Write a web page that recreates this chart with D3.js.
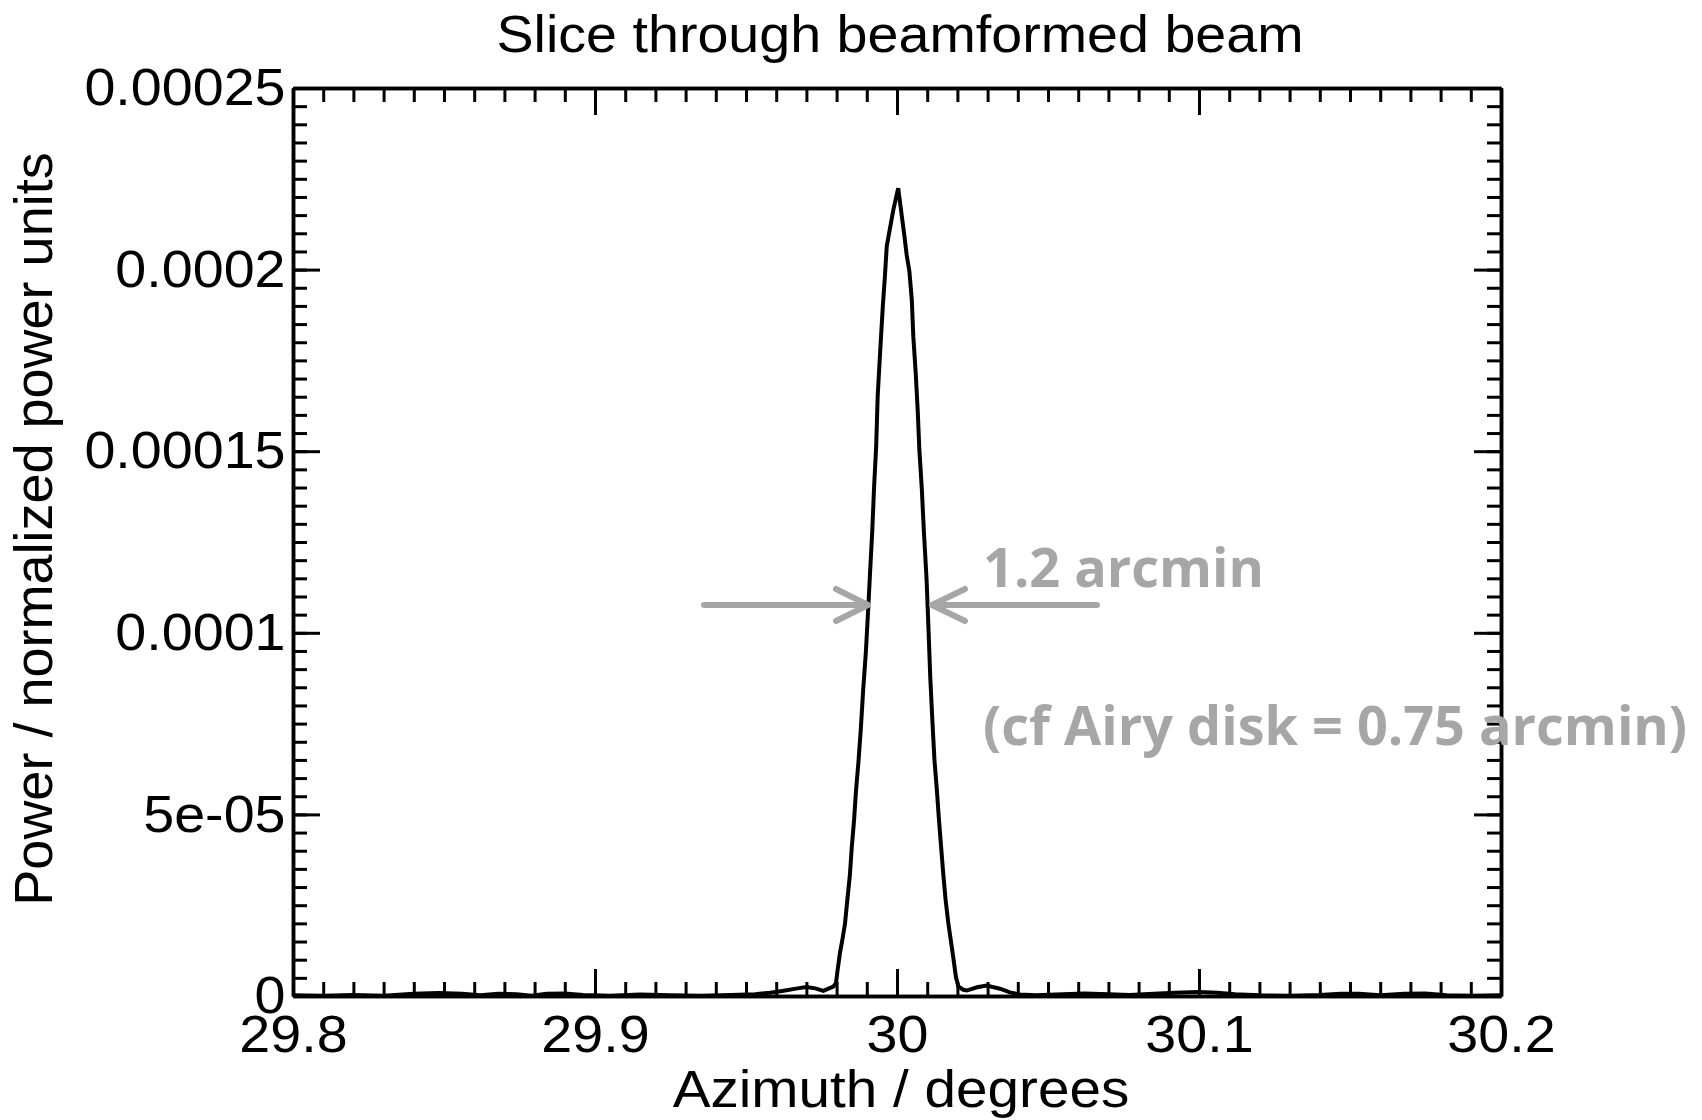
<!DOCTYPE html>
<html>
<head>
<meta charset="utf-8">
<script src="https://cdn.jsdelivr.net/npm/d3@7"></script>
<style>
  body { margin: 0; background: #fff; }
</style>
</head>
<body>
<script>
// beam slice
var azimuth = [29.800, 29.810, 29.820, 29.830, 29.840, 29.848, 29.856, 29.862, 29.868, 29.874,
  29.879, 29.884, 29.890, 29.896, 29.905, 29.915, 29.925, 29.935, 29.945, 29.953,
  29.958, 29.962, 29.967, 29.970, 29.973, 29.9756, 29.9789, 29.9798, 29.9802, 29.9811,
  29.9820, 29.9828, 29.9835, 29.9844, 29.9850, 29.9858, 29.9864, 29.9872, 29.9880, 29.9888,
  29.9897, 29.9905, 29.9911, 29.9918, 29.9924, 29.9931, 29.9936, 29.9944, 29.9953, 29.9960,
  29.9966, 29.9977, 29.9988, 30.0004, 30.0016, 30.0024, 30.0032, 30.0041, 30.0049, 30.0054,
  30.0062, 30.0069, 30.0074, 30.0082, 30.0089, 30.0098, 30.0104, 30.0110, 30.0117, 30.0124,
  30.0132, 30.0139, 30.0146, 30.0153, 30.0161, 30.0170, 30.0178, 30.0186, 30.0195, 30.0203,
  30.0220, 30.0231, 30.0265, 30.0297, 30.0341, 30.0374, 30.0407, 30.046, 30.055, 30.062,
  30.070, 30.077, 30.085, 30.092, 30.100, 30.106, 30.112, 30.120, 30.130, 30.140,
  30.147, 30.153, 30.160, 30.168, 30.175, 30.182, 30.190, 30.200];
var power = [0.2e-6, 0.1e-6, 0.3e-6, 0.1e-6, 0.6e-6, 0.8e-6, 0.6e-6, 0.2e-6, 0.6e-6, 0.5e-6,
  0.1e-6, 0.6e-6, 0.7e-6, 0.3e-6, 0.1e-6, 0.4e-6, 0.2e-6, 0.1e-6, 0.3e-6, 0.5e-6,
  0.9e-6, 1.4e-6, 2.1e-6, 2.5e-6, 2.1e-6, 1.4e-6, 2.6e-6, 3.5e-6, 6.3e-6, 11.8e-6,
  15.9e-6, 20.0e-6, 26.0e-6, 33.3e-6, 40.7e-6, 48.6e-6, 56.3e-6, 64.1e-6, 73.3e-6, 84.3e-6,
  94.8e-6, 107.2e-6, 116.9e-6, 127.9e-6, 139.9e-6, 151.3e-6, 165.1e-6, 177.1e-6, 189.9e-6, 198.2e-6,
  206.4e-6, 211.5e-6, 216.5e-6, 222.4e-6, 214.7e-6, 209.6e-6, 204.1e-6, 199.5e-6, 191.7e-6, 181.6e-6,
  171.5e-6, 160.5e-6, 150.4e-6, 139.9e-6, 127.9e-6, 114.6e-6, 101.7e-6, 88.0e-6, 76.0e-6, 65.0e-6,
  56.7e-6, 48.5e-6, 41.1e-6, 33.8e-6, 26.4e-6, 20.0e-6, 15.4e-6, 10.8e-6, 5.3e-6, 2.6e-6,
  1.7e-6, 1.5e-6, 2.4e-6, 2.9e-6, 2.0e-6, 1.0e-6, 0.4e-6, 0.2e-6, 0.5e-6, 0.7e-6,
  0.5e-6, 0.3e-6, 0.6e-6, 0.9e-6, 1.1e-6, 0.9e-6, 0.5e-6, 0.2e-6, 0.1e-6, 0.3e-6,
  0.6e-6, 0.6e-6, 0.2e-6, 0.6e-6, 0.7e-6, 0.2e-6, 0.1e-6, 0.2e-6];

var xTicks = [29.8, 29.9, 30.0, 30.1, 30.2];
var xTickLabels = ["29.8", "29.9", "30", "30.1", "30.2"];
var yTicks = [0, 0.00005, 0.0001, 0.00015, 0.0002, 0.00025];
var yTickLabels = ["0", "5e-05", "0.0001", "0.00015", "0.0002", "0.00025"];

var width = 1702, height = 1120;
var margin = {left: 293, right: 201, top: 88, bottom: 124};
var plotW = width - margin.left - margin.right;
var plotH = height - margin.top - margin.bottom;
var stretch = "scale(1.07,1)";  // the source text is a bit wide
var plotFont = "'Liberation Sans', Arial, sans-serif";
var noteFont = "'Open Sans', sans-serif";

var x = d3.scaleLinear().domain([29.8, 30.2]).range([0, plotW]);
var y = d3.scaleLinear().domain([0, 0.00025]).range([plotH, 0]);

var xMinor = d3.range(0, 41).map(function(i) { return 29.8 + i * 0.01; });
var yMinor = d3.range(0, 51).map(function(i) { return i * 0.000005; });

var svg = d3.select("body").append("svg").attr("width", width).attr("height", height);
svg.append("rect").attr("width", width).attr("height", height).attr("fill", "#fff");

var g = svg.append("g").attr("transform", "translate(" + margin.left + "," + margin.top + ")");

function styleAxis(sel) {
  sel.selectAll("path.domain").attr("stroke", "#000").attr("stroke-width", 3.5);
  sel.selectAll(".tick line").attr("stroke", "#000").attr("stroke-width", 3);
  sel.selectAll("text").style("font-size", "52px").style("font-family", plotFont)
    .attr("fill", "#000").attr("transform", stretch);
}

// minor ticks first, all four sides
g.append("g").attr("transform", "translate(0," + plotH + ")")
  .call(d3.axisBottom(x).tickValues(xMinor).tickSize(-14).tickSizeOuter(0).tickFormat(""))
  .call(styleAxis);
g.append("g")
  .call(d3.axisTop(x).tickValues(xMinor).tickSize(-14).tickSizeOuter(0).tickFormat(""))
  .call(styleAxis);
g.append("g")
  .call(d3.axisLeft(y).tickValues(yMinor).tickSize(-14).tickSizeOuter(0).tickFormat(""))
  .call(styleAxis);
g.append("g").attr("transform", "translate(" + plotW + ",0)")
  .call(d3.axisRight(y).tickValues(yMinor).tickSize(-14).tickSizeOuter(0).tickFormat(""))
  .call(styleAxis);

// major ticks with labels on bottom and left
g.append("g").attr("transform", "translate(0," + plotH + ")")
  .call(d3.axisBottom(x).tickValues(xTicks).tickSize(-27).tickSizeOuter(0).tickPadding(19)
    .tickFormat(function(d, i) { return xTickLabels[i]; }))
  .call(styleAxis);
g.append("g")
  .call(d3.axisTop(x).tickValues(xTicks).tickSize(-27).tickSizeOuter(0).tickFormat(""))
  .call(styleAxis);
g.append("g")
  .call(d3.axisLeft(y).tickValues(yTicks).tickSize(-27).tickSizeOuter(0).tickPadding(7)
    .tickFormat(function(d, i) { return yTickLabels[i]; }))
  .call(styleAxis);
g.append("g").attr("transform", "translate(" + plotW + ",0)")
  .call(d3.axisRight(y).tickValues(yTicks).tickSize(-27).tickSizeOuter(0).tickFormat(""))
  .call(styleAxis);

var line = d3.line()
  .x(function(d, i) { return x(azimuth[i]); })
  .y(function(d) { return y(d); });

g.append("path")
  .attr("d", line(power))
  .attr("fill", "none")
  .attr("stroke", "#000")
  .attr("stroke-width", 4)
  .attr("stroke-linejoin", "miter");

// titles
svg.append("text")
  .attr("transform", "translate(900,52) " + stretch)
  .attr("text-anchor", "middle")
  .style("font-family", plotFont).style("font-size", "52px")
  .text("Slice through beamformed beam");
svg.append("text")
  .attr("transform", "translate(901,1107) scale(1.09,1)")
  .attr("text-anchor", "middle")
  .style("font-family", plotFont).style("font-size", "52px")
  .text("Azimuth / degrees");
svg.append("text")
  .attr("transform", "translate(52,529) rotate(-90)")
  .attr("text-anchor", "middle")
  .style("font-family", plotFont).style("font-size", "54px")
  .text("Power / normalized power units");

// grey annotation on top
var grey = "#a6a6a6";
var ann = svg.append("g").attr("stroke", grey).attr("stroke-width", 6)
  .attr("stroke-linecap", "round").attr("stroke-linejoin", "round").attr("fill", "none");
ann.append("line").attr("x1", 704).attr("y1", 605).attr("x2", 866).attr("y2", 605);
ann.append("polyline").attr("points", "836,589 868,605 836,621");
ann.append("line").attr("x1", 934).attr("y1", 605).attr("x2", 1097).attr("y2", 605);
ann.append("polyline").attr("points", "965,589 932,605 965,621");

svg.append("text")
  .attr("x", 983).attr("y", 587)
  .style("font-family", noteFont).style("font-weight", "bold").style("font-size", "54px")
  .attr("fill", grey)
  .text("1.2 arcmin");
svg.append("text")
  .attr("x", 983).attr("y", 745)
  .style("font-family", noteFont).style("font-weight", "bold").style("font-size", "54px")
  .attr("fill", grey)
  .text("(cf Airy disk = 0.75 arcmin)");
</script>
</body>
</html>
